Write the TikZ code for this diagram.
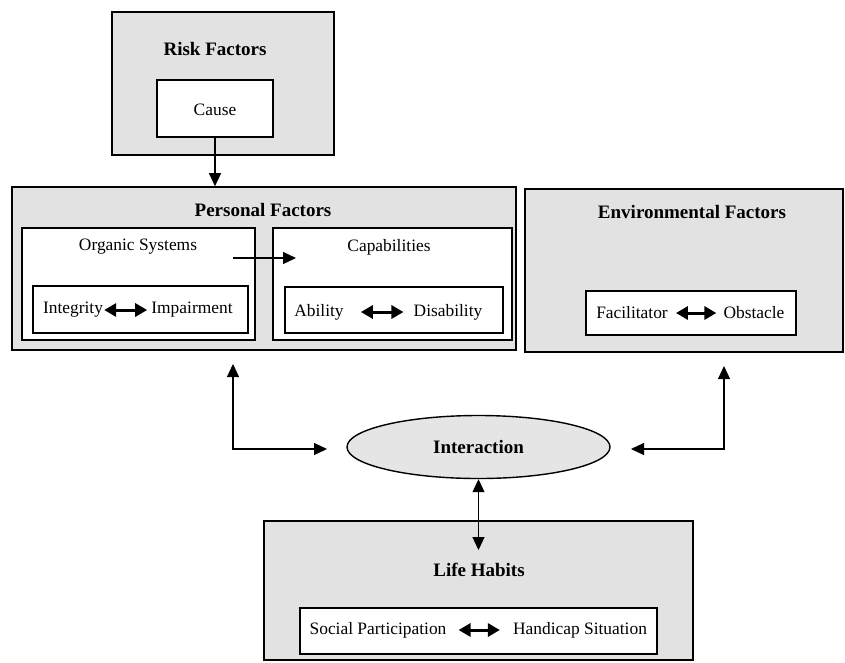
\documentclass[tikz,border=0pt]{standalone}
\usepackage{fontspec}
\setmainfont{Liberation Serif}
\usetikzlibrary{arrows.meta,shapes.geometric}

\tikzset{
  outerbox/.style={draw=black, line width=1.6pt, fill=gray!23},
  innerbox/.style={draw=black, line width=1.4pt, fill=white},
  titletext/.style={font=\fontsize{19}{22}\selectfont\bfseries, inner sep=1pt},
  plaintext/.style={font=\fontsize{17.4}{20}\selectfont, inner sep=1pt},
  link/.style={line width=1.2pt, -{Triangle[length=13pt,width=12pt]}},
  twoway/.style={line width=1.2pt, {Triangle[length=13pt,width=12pt]}-{Triangle[length=13pt,width=12pt]}},
  pairarrow/.style={line width=3pt, {Triangle[length=12pt,width=13pt]}-{Triangle[length=12pt,width=13pt]}}
}

\begin{document}
\begin{tikzpicture}[x=1pt, y=-1pt]
    \useasboundingbox (0,0) rectangle (845,662);

    % Risk factors
    \node[outerbox, minimum width=222pt, minimum height=143pt] (risk) at (223,83.5) {};
    \node[titletext] (riskTitle) at (215,49) {Risk Factors};
    \node[innerbox, minimum width=116pt, minimum height=57pt] (cause) at (215,108.5) {};
    \node[plaintext] (causeText) at (215,110) {Cause};

    % Personal factors
    \node[outerbox, minimum width=504pt, minimum height=163pt] (personal) at (264,268.5) {};
    \node[titletext] (personalTitle) at (263,210) {Personal Factors};
    \node[innerbox, minimum width=233pt, minimum height=112pt] (organic) at (138.5,284) {};
    \node[innerbox, minimum width=239pt, minimum height=112pt] (capab) at (392.5,284) {};
    \node[plaintext] (organicTitle) at (138,247) {Organic Systems};
    \node[plaintext] (capabTitle) at (389,247) {Capabilities};
    \node[innerbox, minimum width=215pt, minimum height=47pt] (organicPair) at (140.5,309.5) {};
    \node[innerbox, minimum width=218pt, minimum height=46pt] (capabPair) at (394,310) {};
    \node[plaintext] (integrity) at (73,310) {Integrity};
    \node[plaintext] (impairment) at (192,310) {Impairment};
    \node[plaintext] (ability) at (319,312) {Ability};
    \node[plaintext] (disability) at (448,312) {Disability};

    % Environmental factors
    \node[outerbox, minimum width=318pt, minimum height=163pt] (env) at (684,270.5) {};
    \node[titletext] (envTitle) at (692,212) {Environmental Factors};
    \node[innerbox, minimum width=210pt, minimum height=44pt] (envPair) at (691,313) {};
    \node[plaintext] (facilitator) at (632,313) {Facilitator};
    \node[plaintext] (obstacle) at (754,313) {Obstacle};

    % Interaction
    \node[ellipse, draw=black, line width=1.4pt, fill=gray!20, minimum width=263pt, minimum height=63pt, titletext] (interaction) at (478.5,447) {Interaction};

    % Life habits
    \node[outerbox, minimum width=429pt, minimum height=139pt] (life) at (478.5,590.5) {};
    \node[titletext] (lifeTitle) at (479,570) {Life Habits};
    \node[innerbox, minimum width=357pt, minimum height=46pt] (lifePair) at (478.5,631) {};
    \node[plaintext] (social) at (378,630) {Social Participation};
    \node[plaintext] (handicap) at (580,630) {Handicap Situation};

    % Free ends of connectors
    \coordinate (osStart) at (233,258);
    \coordinate (osEnd) at (296,258);
    \coordinate (pfLink) at (233,364);
    \coordinate (inLeft) at (327,449);
    \coordinate (efLink) at (724,366);
    \coordinate (inRight) at (631,449);
    \coordinate (lhTop) at (478.5,550);

    % Draw connectors
    \draw[link] (cause.south) -- (cause.south |- personal.north);
    \draw[link] (osStart) -- (osEnd);
    \draw[twoway] (pfLink) |- (inLeft);
    \draw[twoway] (efLink) |- (inRight);
    \draw[twoway] (interaction.south) -- (lhTop);

    % Draw pair arrows
    \draw[pairarrow, shorten >=3pt] (integrity) -- (impairment);
    \draw[pairarrow, shorten <=16pt, shorten >=9pt] (ability) -- (disability);
    \draw[pairarrow, shorten <=7pt, shorten >=6pt] (facilitator) -- (obstacle);
    \draw[pairarrow, shorten <=11pt, shorten >=12pt] (social) -- (handicap);

\end{tikzpicture}
\end{document}
